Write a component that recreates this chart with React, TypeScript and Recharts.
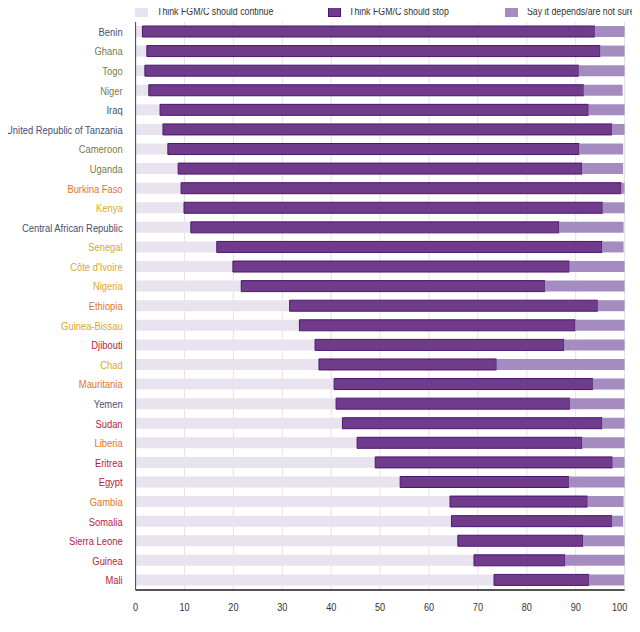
import React from "react";
import { BarChart, Bar, XAxis, YAxis, CartesianGrid } from "recharts";

const countries = [
  "Benin", "Ghana", "Togo", "Niger", "Iraq", "United Republic of Tanzania", "Cameroon", "Uganda",
  "Burkina Faso", "Kenya", "Central African Republic", "Senegal", "Côte d'Ivoire", "Nigeria",
  "Ethiopia", "Guinea-Bissau", "Djibouti", "Chad", "Mauritania", "Yemen", "Sudan", "Liberia",
  "Eritrea", "Egypt", "Gambia", "Somalia", "Sierra Leone", "Guinea", "Mali",
];

const shouldContinue = [
  1.4, 2.3, 1.9, 2.7, 5.0, 5.6, 6.6, 8.7, 9.3, 9.9, 11.3, 16.6, 19.9, 21.6, 31.5, 33.5, 36.7,
  37.5, 40.6, 41.0, 42.3, 45.3, 49.0, 54.1, 64.3, 64.6, 65.9, 69.2, 73.3,
];

const shouldStop = [
  92.5, 92.7, 88.7, 88.9, 87.6, 91.8, 84.1, 82.6, 90.0, 85.6, 75.3, 78.8, 68.8, 62.1, 63.0, 56.4,
  50.9, 36.3, 52.9, 47.8, 53.1, 46.0, 48.5, 34.5, 28.1, 32.8, 25.6, 18.6, 19.4,
];

const dependsNotSure = [
  6.1, 5.0, 9.4, 8.0, 7.4, 2.6, 9.0, 8.4, 0.7, 4.5, 13.2, 4.4, 11.3, 16.3, 5.5, 10.1, 12.4,
  26.2, 6.5, 11.2, 4.6, 8.7, 2.5, 11.4, 7.4, 2.3, 8.5, 12.2, 7.2,
];

// label colour group per country
const labelGroup = [
  "slate", "olive", "olive", "olive", "slate", "slate", "olive", "olive", "orange", "yellow",
  "slate", "yellow", "yellow", "yellow", "orange", "yellow", "red", "yellow", "orange", "slate",
  "red", "orange", "red", "red", "orange", "red", "red", "red", "red",
];

const xTicks = [0, 10, 20, 30, 40, 50, 60, 70, 80, 90, 100];

const legendLabels = [
  "Think FGM/C should continue",
  "Think FGM/C should stop",
  "Say it depends/are not sure",
];

const groupColors: Record<string, string> = {
  slate: "#3f4f72",
  olive: "#7b7a45",
  orange: "#d9782b",
  yellow: "#d8a82a",
  red: "#b3243a",
};

const C_CONT = "#e8e3ef";
const C_STOP = "#6f3b8b";
const C_STOP_EDGE = "#4e1470";
const C_DEP = "#a58cc0";

const FONT = "'Liberation Sans', Arial, sans-serif";
const NARROW = 0.83;

const data = countries.map((name, i) => ({
  name,
  cont: shouldContinue[i],
  stop: shouldStop[i],
  dep: dependsNotSure[i],
}));

const YTick = (props: any) => {
  const { x, y, payload, index } = props;
  const g = labelGroup[index] ?? labelGroup[countries.indexOf(payload.value)];
  return (
    <g transform={`translate(${x},${y})`}>
      <text
        x={0}
        y={0}
        dy="0.36em"
        textAnchor="end"
        fontSize={11.3}
        fontFamily={FONT}
        fill={groupColors[g]}
        transform={`scale(${NARROW},1)`}
      >
        {payload.value}
      </text>
    </g>
  );
};

const XTick = (props: any) => {
  const { x, y, payload } = props;
  const dx = payload.value === 100 ? -5 : 0;
  return (
    <g transform={`translate(${x + dx},${y})`}>
      <text
        x={0}
        y={0}
        dy="0.71em"
        textAnchor="middle"
        fontSize={11}
        fontFamily={FONT}
        fill="#333"
        transform={`scale(${NARROW},1)`}
      >
        {payload.value}
      </text>
    </g>
  );
};

const legendColors = [C_CONT, C_STOP, C_DEP];
const legendPos = [
  { sq: 135, tx: 157 },
  { sq: 328, tx: 349 },
  { sq: 505, tx: 527 },
];

export default function App() {
  return (
    <div style={{ position: "relative", width: 640, height: 632, margin: "-8px 0 0 -8px" }}>
      {legendLabels.map((l, i) => (
        <div key={l} style={{ position: "absolute", left: legendPos[i].sq, top: 4, height: 14, zIndex: 2 }}>
          <div
            style={{
              position: "absolute",
              left: 0,
              top: 0,
              width: 13,
              height: 13,
              background: legendColors[i],
              boxSizing: "border-box",
              border: i === 1 ? `1px solid ${C_STOP_EDGE}` : "none",
            }}
          />
          <span
            style={{
              position: "absolute",
              left: legendPos[i].tx - legendPos[i].sq,
              top: 0,
              lineHeight: "14px",
              whiteSpace: "nowrap",
              fontFamily: FONT,
              fontSize: 11,
              color: "#333",
              transform: "scaleX(0.8)",
              transformOrigin: "left center",
            }}
          >
            {l}
          </span>
        </div>
      ))}
      <BarChart
        width={640}
        height={632}
        data={data}
        layout="vertical"
        margin={{ top: 22, right: 15.4, bottom: 12, left: 0 }}
        barSize={11}
      >
        <CartesianGrid horizontal={false} vertical={true} stroke="#e4e4e4" strokeWidth={1} />
        <XAxis
          type="number"
          domain={[0, 100]}
          ticks={xTicks}
          interval={0}
          height={30}
          tickSize={0}
          tickMargin={13}
          tick={<XTick />}
          axisLine={{ stroke: "#555", strokeWidth: 2 }}
          tickLine={false}
        />
        <YAxis
          type="category"
          dataKey="name"
          width={135.6}
          interval={0}
          tickSize={0}
          tickMargin={13}
          tick={<YTick />}
          axisLine={{ stroke: "#444", strokeWidth: 1 }}
          tickLine={false}
        />
        <Bar dataKey="cont" stackId="a" fill={C_CONT} isAnimationActive={false} />
        <Bar dataKey="stop" stackId="a" fill={C_STOP} stroke={C_STOP_EDGE} strokeWidth={1} isAnimationActive={false} />
        <Bar dataKey="dep" stackId="a" fill={C_DEP} isAnimationActive={false} />
      </BarChart>
    </div>
  );
}
